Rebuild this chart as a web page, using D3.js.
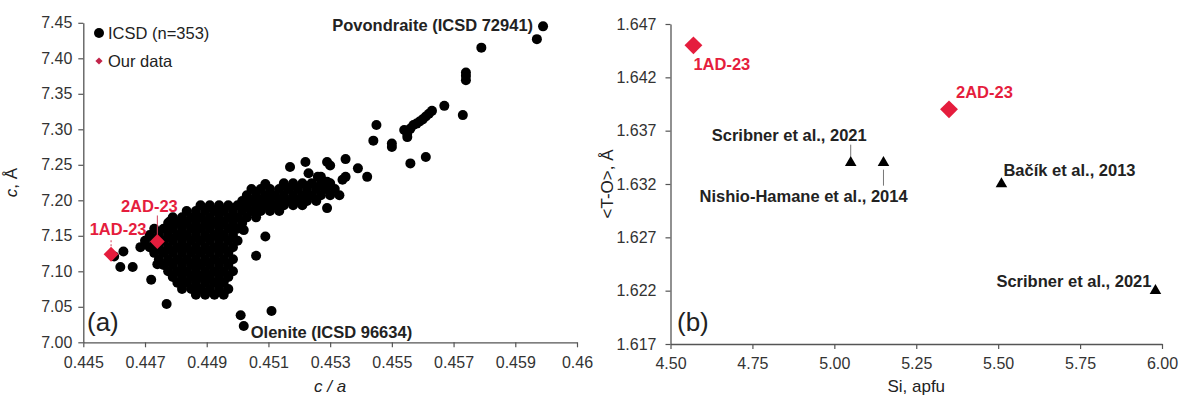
<!DOCTYPE html>
<html><head><meta charset="utf-8">
<script src="https://cdn.jsdelivr.net/npm/d3@7"></script>
<style>
body{margin:0;background:#fff}
svg{display:block}
text{font-family:"Liberation Sans",Arial,sans-serif}
</style>
</head><body>
<svg id="chart" width="1180" height="398"></svg>
<script>
// ---------- DATA (panel a) ----------
// ICSD cloud: rows of equal c (Å) with their c/a values
const icsdRows = [
  [7.224, [0.4515,0.4518,0.4521,0.4524,0.4527,0.4530]],
  [7.216, [0.45045,0.45075,0.45105,0.45135,0.45165,0.45195,0.45225,0.45255,0.45285,0.45315]],
  [7.207, [0.4503,0.4506,0.4509,0.4512,0.4515,0.4518,0.4521,0.4524,0.4527,0.4530,0.4533]],
  [7.199, [0.45015,0.45045,0.45075,0.45105,0.45135,0.45165,0.45195,0.45225,0.45255]],
  [7.193, [0.4488,0.4491,0.4494,0.4497,0.4500,0.4503,0.4506,0.4509,0.4512,0.4515,0.4518,0.4521]],
  [7.185, [0.44835,0.44865,0.44895,0.44925,0.44955,0.44985,0.45015,0.45045,0.45075,0.45105,0.45135]],
  [7.176, [0.4479,0.4482,0.4485,0.4488,0.4491,0.4494,0.4497,0.4500,0.4503,0.4506]],
  [7.168, [0.44775,0.44805,0.44835,0.44865,0.44895,0.44925,0.44955,0.44985,0.45015]],
  [7.160, [0.4473,0.4476,0.4479,0.4482,0.4485,0.4488,0.4491,0.4494,0.4497,0.4500]],
  [7.151, [0.44715,0.44745,0.44775,0.44805,0.44835,0.44865,0.44895,0.44925,0.44955,0.44985]],
  [7.143, [0.4470,0.4473,0.4476,0.4479,0.4482,0.4485,0.4488,0.4491,0.4494,0.4497,0.4500]],
  [7.134, [0.44685,0.44715,0.44745,0.44775,0.44805,0.44835,0.44865,0.44895,0.44925,0.44955,0.44985]],
  [7.126, [0.4473,0.4476,0.4479,0.4482,0.4485,0.4488,0.4491,0.4494,0.4497]],
  [7.117, [0.44745,0.44775,0.44805,0.44835,0.44865,0.44895,0.44925,0.44955,0.44985]],
  [7.109, [0.4476,0.4479,0.4482,0.4485,0.4488,0.4491,0.4494,0.4497]],
  [7.100, [0.44775,0.44805,0.44835,0.44865,0.44895,0.44925,0.44955,0.44985]],
  [7.092, [0.4479,0.4482,0.4485,0.4488,0.4491,0.4494,0.4497]],
  [7.084, [0.44805,0.44835,0.44865,0.44895,0.44925,0.44955]],
  [7.075, [0.4482,0.4485,0.4488,0.4491,0.4494,0.4497]],
  [7.067, [0.44865,0.44895,0.44925,0.44955]]
];
// ICSD individual points [c/a, c]
const icsdSingles = [
  [0.4460,7.121],[0.4463,7.128],[0.4462,7.106],[0.4466,7.106],[0.4472,7.088],[0.4477,7.054],
  [0.4501,7.038],[0.4502,7.023],[0.4511,7.044],[0.4506,7.122],[0.4509,7.149],[0.4502,7.158],
  [0.4529,7.189],[0.4509,7.223],[0.4517,7.247],[0.4522,7.254],[0.4529,7.254],[0.4530,7.249],
  [0.4535,7.258],[0.4539,7.245],[0.4542,7.233],[0.4535,7.233],[0.4534,7.229],[0.4523,7.238],
  [0.4527,7.233],[0.4529,7.226],[0.4526,7.233],[0.4545,7.306],[0.4544,7.284],[0.4550,7.280],
  [0.4550,7.275],[0.4555,7.289],[0.4555,7.294],[0.4554,7.299],[0.4556,7.301],[0.4557,7.306],
  [0.4558,7.308],[0.4559,7.311],[0.4560,7.314],[0.4561,7.318],[0.4562,7.322],[0.4563,7.326],
  [0.4567,7.333],[0.4573,7.320],[0.4556,7.252],[0.4561,7.261],[0.4574,7.380],[0.4574,7.375],
  [0.4574,7.369],[0.4579,7.415],[0.4597,7.427],[0.4599,7.445],[0.4474,7.110],[0.4478,7.170]
];
const ourCa = ["1AD-23","2AD-23"];
const ourCaValues = [0.4459, 0.4474];
const ourCValues  = [7.124, 7.142];
const caTicks = [0.445,0.447,0.449,0.451,0.453,0.455,0.457,0.459,0.461];
const caTickLabels = ["0.445","0.447","0.449","0.451","0.453","0.455","0.457","0.459","0.46"];
const cTicks = [7.00,7.05,7.10,7.15,7.20,7.25,7.30,7.35,7.40,7.45];
const povondraite = [0.4599,7.445];
const olenite = [0.4502,7.023];

// ---------- DATA (panel b) ----------
const ourSi = [4.57, 5.35];
const ourTO = [1.645, 1.639];
const litNames = ["Scribner et al., 2021","Nishio-Hamane et al., 2014","Bačík et al., 2013","Scribner et al., 2021"];
const litSi = [5.05, 5.15, 5.51, 5.98];
const litTO = [1.634, 1.634, 1.632, 1.622];
const siTicks = [4.50,4.75,5.00,5.25,5.50,5.75,6.00];
const toTicks = [1.617,1.622,1.627,1.632,1.637,1.642,1.647];

// ---------- STYLE ----------
const RED = "#e51d3d";
const AXIS = "#555";
const TXT = "#333";
const svg = d3.select("#chart");

function styleAxis(g){
  g.selectAll("path.domain").attr("stroke",AXIS).attr("stroke-width",1.3);
  g.selectAll(".tick line").attr("stroke",AXIS).attr("stroke-width",1.2);
  g.selectAll(".tick text").attr("fill",TXT).style("font-size","16px")
   .style("font-family",'"Liberation Sans",Arial,sans-serif');
}

// ================= PANEL A =================
const xA = d3.scaleLinear().domain([0.445,0.461]).range([83.3,577]);
const yA = d3.scaleLinear().domain([7.00,7.45]).range([342.3,22.8]);

const gA = svg.append("g");
gA.append("g").attr("transform",`translate(0,${yA(7.00)})`)
  .call(d3.axisBottom(xA).tickValues(caTicks).tickFormat((d,i)=>caTickLabels[i]).tickSize(5).tickSizeOuter(0).tickPadding(9))
  .call(styleAxis);
gA.append("g").attr("transform",`translate(${xA(0.445)},0)`)
  .call(d3.axisLeft(yA).tickValues(cTicks).tickFormat(d3.format(".2f")).tickSize(5).tickSizeOuter(0).tickPadding(6))
  .call(styleAxis);

const icsdPoints = icsdRows.flatMap(([c,list]) => list.map(ca => [ca,c])).concat(icsdSingles);
gA.append("g").selectAll("circle").data(icsdPoints).join("circle")
  .attr("cx",d=>xA(d[0])).attr("cy",d=>yA(d[1])).attr("r",5).attr("fill","#000");

// leader lines for our data (a)
const ourAOff = [{dx:7,dy:-19,l1:-14,l2:-6,dash:"2,2"},{dx:-8,dy:-29,l1:-26,l2:-6,dash:null}];
ourCa.forEach((n,i)=>{
  const px = xA(ourCaValues[i]), py = yA(ourCValues[i]);
  gA.append("line").attr("x1",px).attr("x2",px).attr("y1",py+ourAOff[i].l1).attr("y2",py+ourAOff[i].l2)
    .attr("stroke","#d0405a").attr("stroke-width",1).attr("stroke-dasharray",ourAOff[i].dash);
});
ourCa.forEach((n,i)=>{
  const px = xA(ourCaValues[i]), py = yA(ourCValues[i]);
  gA.append("path").attr("d",d3.symbol(d3.symbolSquare,110)())
    .attr("transform",`translate(${px},${py}) rotate(45)`).attr("fill",RED);
  gA.append("text").attr("x",px+ourAOff[i].dx).attr("y",py+ourAOff[i].dy).attr("text-anchor","middle")
    .attr("fill",RED).style("font-size","16.5px").style("font-weight","bold").text(n);
});

// annotations
gA.append("text").attr("x",xA(povondraite[0])-10).attr("y",yA(povondraite[1])+5).attr("text-anchor","end")
  .attr("fill","#222").style("font-size","16.5px").style("font-weight","bold").text("Povondraite (ICSD 72941)");
gA.append("text").attr("x",xA(olenite[0])+7).attr("y",yA(olenite[1])+12).attr("text-anchor","start")
  .attr("fill","#222").style("font-size","16.5px").style("font-weight","bold").text("Olenite (ICSD 96634)");
gA.append("text").attr("x",87).attr("y",331).attr("fill","#222").style("font-size","26px").text("(a)");

// legend
gA.append("circle").attr("cx",99).attr("cy",33).attr("r",5).attr("fill","#000");
gA.append("text").attr("x",108).attr("y",39).attr("fill","#222").style("font-size","16.5px").text("ICSD (n=353)");
gA.append("path").attr("d",d3.symbol(d3.symbolSquare,26)()).attr("transform","translate(99,61) rotate(45)").attr("fill","#c2244a");
gA.append("text").attr("x",108).attr("y",67).attr("fill","#222").style("font-size","16.5px").text("Our data");

// axis titles
const ytA = gA.append("text").attr("transform",`translate(17,${(yA(7.00)+yA(7.45))/2}) rotate(-90)`)
  .attr("text-anchor","middle").attr("fill","#222").style("font-size","17px");
ytA.append("tspan").style("font-style","italic").text("c");
ytA.append("tspan").text(", Å");
gA.append("text").attr("x",(xA(0.445)+xA(0.461))/2).attr("y",392).attr("text-anchor","middle")
  .attr("fill","#222").style("font-size","17px").style("font-style","italic").text("c / a");

// ================= PANEL B =================
const xB = d3.scaleLinear().domain([4.5,6.0]).range([670.5,1162]);
const yB = d3.scaleLinear().domain([1.617,1.647]).range([344,24]);
const gB = svg.append("g");
gB.append("g").attr("transform",`translate(0,${yB(1.617)})`)
  .call(d3.axisBottom(xB).tickValues(siTicks).tickFormat(d3.format(".2f")).tickSize(5).tickSizeOuter(0).tickPadding(9))
  .call(styleAxis);
gB.append("g").attr("transform",`translate(${xB(4.5)},0)`)
  .call(d3.axisLeft(yB).tickValues(toTicks).tickFormat(d3.format(".3f")).tickSize(5).tickSizeOuter(0).tickPadding(9))
  .call(styleAxis);

// literature triangles + labels
const litOff = [
  {dx:-139,dy:-22,anchor:"start",lead:[-18,-6]},
  {dx:-184,dy:39,anchor:"start",lead:[7,23]},
  {dx:2,dy:-8,anchor:"start",lead:null},
  {dx:-4,dy:-4,anchor:"end",lead:null}
];
litNames.forEach((n,i)=>{
  const px = xB(litSi[i]), py = yB(litTO[i]), o = litOff[i];
  if(o.lead) gB.append("line").attr("x1",px).attr("x2",px).attr("y1",py+o.lead[0]).attr("y2",py+o.lead[1])
    .attr("stroke","#777").attr("stroke-width",1);
  gB.append("path").attr("d",d3.symbol(d3.symbolTriangle,58)()).attr("transform",`translate(${px},${py})`).attr("fill","#000");
  gB.append("text").attr("x",px+o.dx).attr("y",py+o.dy).attr("text-anchor",o.anchor)
    .attr("fill","#222").style("font-size","16.5px").style("font-weight","bold").text(n);
});
// our data (b)
const ourBOff = [{dx:0,dy:25},{dx:7,dy:-11}];
ourCa.forEach((n,i)=>{
  const px = xB(ourSi[i]), py = yB(ourTO[i]);
  gB.append("path").attr("d",d3.symbol(d3.symbolSquare,160)())
    .attr("transform",`translate(${px},${py}) rotate(45)`).attr("fill",RED);
  gB.append("text").attr("x",px+ourBOff[i].dx).attr("y",py+ourBOff[i].dy)
    .attr("fill",RED).style("font-size","16.5px").style("font-weight","bold").text(n);
});
gB.append("text").attr("x",677).attr("y",331).attr("fill","#222").style("font-size","26px").text("(b)");

gB.append("text").attr("transform",`translate(613,${(yB(1.617)+yB(1.647))/2}) rotate(-90)`)
  .attr("text-anchor","middle").attr("fill","#222").style("font-size","17px").text("<T-O>, Å");
gB.append("text").attr("x",(xB(4.5)+xB(6.0))/2).attr("y",392).attr("text-anchor","middle")
  .attr("fill","#222").style("font-size","17px").text("Si, apfu");
</script>
</body></html>
